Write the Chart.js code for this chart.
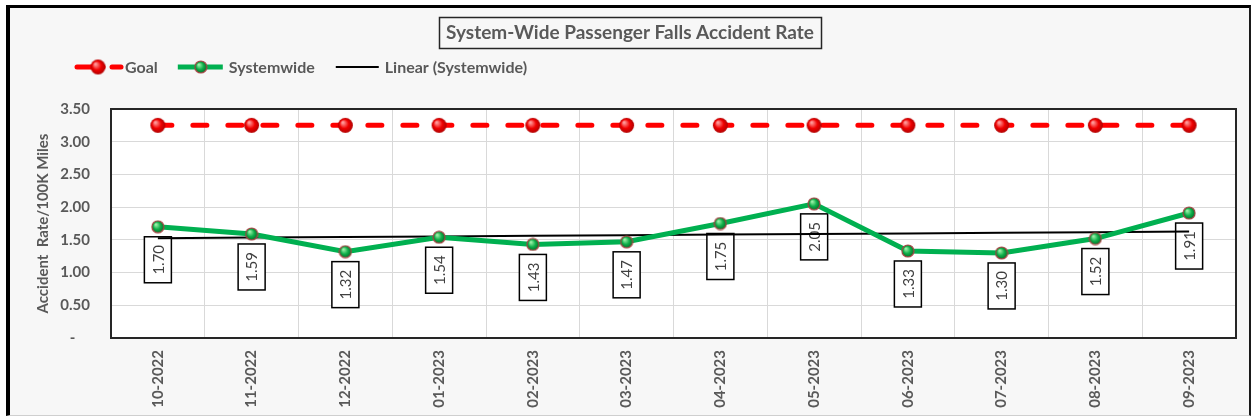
<!DOCTYPE html>
<html>
<head>
<meta charset="utf-8">
<script src="https://cdn.jsdelivr.net/npm/chart.js@4/dist/chart.umd.min.js"></script>
<style>
  html, body { margin: 0; padding: 0; width: 1251px; height: 417px; overflow: hidden; background: #fff; }
  .frame {
    position: absolute; left: 6px; top: 5px; width: 1245px; height: 411px; box-sizing: border-box;
    background: #f7f7f7; border-left: 4px solid #000; border-top: 3px solid #000;
    border-right: 2px solid #1a1a1a; border-bottom: 1px solid #cfcfcf;
  }
  #rateChart { position: absolute; left: 0; top: 0; }
</style>
</head>
<body>
<div class="frame"></div>
<canvas id="rateChart" width="1251" height="417"></canvas>
<script>
// chart data
const months = ['10-2022', '11-2022', '12-2022', '01-2023', '02-2023', '03-2023',
                '04-2023', '05-2023', '06-2023', '07-2023', '08-2023', '09-2023'];
const systemwide = [1.70, 1.59, 1.32, 1.54, 1.43, 1.47, 1.75, 2.05, 1.33, 1.30, 1.52, 1.91];
const goal = [3.25, 3.25, 3.25, 3.25, 3.25, 3.25, 3.25, 3.25, 3.25, 3.25, 3.25, 3.25];
const yMin = 0, yMax = 3.5, yStep = 0.5;

const chartTitle = 'System-Wide Passenger Falls Accident Rate';
const yTitle = 'Accident  Rate/100K Miles';
const legendNames = ['Goal', 'Systemwide', 'Linear (Systemwide)'];

const GREY = '#595959';
const FONT = 'Lato';

// least squares trend, like the Excel "Linear" trendline
function linearTrend(values) {
    const n = values.length;
    let sx = 0, sy = 0, sxy = 0, sxx = 0;
    values.forEach((v, i) => { sx += i; sy += v; sxy += i * v; sxx += i * i; });
    const slope = (n * sxy - sx * sy) / (n * sxx - sx * sx);
    const icpt = (sy - slope * sx) / n;
    return values.map((v, i) => icpt + slope * i);
}
const trend = linearTrend(systemwide);

// shaded ball markers
function sphere(d, light, mid, dark, stroke) {
    const c = document.createElement('canvas');
    c.width = c.height = d + 2;
    const g = c.getContext('2d');
    const r = d / 2, cx = r + 1, cy = r + 1;
    const grad = g.createRadialGradient(cx - r * 0.35, cy - r * 0.4, r * 0.1, cx, cy, r);
    grad.addColorStop(0, light);
    grad.addColorStop(0.55, mid);
    grad.addColorStop(1, dark);
    g.beginPath();
    g.arc(cx, cy, r, 0, Math.PI * 2);
    g.fillStyle = grad;
    g.fill();
    if (stroke) { g.lineWidth = 1.2; g.strokeStyle = stroke; g.stroke(); }
    return c;
}
const redBall = sphere(15, '#ff9a9a', '#f00000', '#b00000', null);
const greenBall = sphere(12, '#9cf0a8', '#10b04a', '#00702a', '#a64545');

// white plot area + frame
const plotFrame = {
    id: 'plotFrame',
    beforeDraw(chart) {
        const { ctx, chartArea: a } = chart;
        ctx.save();
        ctx.fillStyle = '#fff';
        ctx.fillRect(a.left, a.top, a.right - a.left, a.bottom - a.top);
        ctx.restore();
    },
    beforeDatasetsDraw(chart) {
        const { ctx, chartArea: a } = chart;
        ctx.save();
        ctx.strokeStyle = '#262626';
        ctx.lineWidth = 2;
        ctx.strokeRect(a.left, a.top, a.right - a.left, a.bottom - a.top);

        // boxed value labels under the systemwide points
        const meta = chart.getDatasetMeta(1);
        ctx.font = '15px ' + FONT;
        ctx.textAlign = 'center';
        ctx.textBaseline = 'middle';
        meta.data.forEach((pt, i) => {
            const bx = pt.x - 13.5, by = pt.y + 10, bw = 27, bh = 46;
            ctx.fillStyle = '#fff';
            ctx.fillRect(bx, by, bw, bh);
            ctx.lineWidth = 1.5;
            ctx.strokeStyle = '#000';
            ctx.strokeRect(bx, by, bw, bh);
            ctx.save();
            ctx.translate(pt.x + 1, by + bh / 2);
            ctx.rotate(-Math.PI / 2);
            ctx.fillStyle = '#404040';
            ctx.fillText(systemwide[i].toFixed(2), 0, 0);
            ctx.restore();
        });
        ctx.restore();
    }
};

// boxed title and the legend row
const headerBits = {
    id: 'headerBits',
    afterDraw(chart) {
        const ctx = chart.ctx;
        ctx.save();
        ctx.font = 'bold 19px ' + FONT;
        ctx.fillStyle = GREY;
        ctx.textAlign = 'center';
        ctx.textBaseline = 'middle';
        const tw = ctx.measureText(chartTitle).width;
        const cx = 630, cy = 33;
        ctx.fillText(chartTitle, cx, cy);
        ctx.strokeStyle = '#262626';
        ctx.lineWidth = 1.5;
        ctx.strokeRect(Math.round(cx - tw / 2 - 7) + 0.5, 17.5, Math.round(tw + 14), 31);

        // legend
        const ly = 67;
        let x = 75;
        ctx.font = 'bold 16px ' + FONT;
        ctx.textAlign = 'left';
        ctx.lineCap = 'round';

        // Goal: dashed red with ball
        ctx.strokeStyle = '#ff0000';
        ctx.lineWidth = 5;
        ctx.beginPath(); ctx.moveTo(x + 2, ly); ctx.lineTo(x + 28, ly); ctx.stroke();
        ctx.beginPath(); ctx.moveTo(x + 37, ly); ctx.lineTo(x + 46, ly); ctx.stroke();
        ctx.drawImage(redBall, x + 23 - redBall.width / 2, ly - redBall.height / 2);
        x += 50;
        ctx.fillText(legendNames[0], x, ly + 1);
        x += ctx.measureText(legendNames[0]).width + 20;

        // Systemwide: green with ball
        ctx.strokeStyle = '#00b050';
        ctx.lineCap = 'butt';
        ctx.beginPath(); ctx.moveTo(x, ly); ctx.lineTo(x + 45, ly); ctx.stroke();
        ctx.drawImage(greenBall, x + 23 - greenBall.width / 2, ly - greenBall.height / 2);
        x += 51;
        ctx.fillText(legendNames[1], x, ly + 1);
        x += ctx.measureText(legendNames[1]).width + 21;

        // Linear trend: black
        ctx.strokeStyle = '#000';
        ctx.lineWidth = 2;
        ctx.beginPath(); ctx.moveTo(x, ly); ctx.lineTo(x + 43, ly); ctx.stroke();
        x += 49;
        ctx.fillText(legendNames[2], x, ly + 1);
        ctx.restore();
    }
};

new Chart(document.getElementById('rateChart'), {
    type: 'line',
    data: {
        labels: months,
        datasets: [
            {
                label: legendNames[0],
                data: goal,
                borderColor: '#ff0000',
                borderWidth: 5,
                borderDash: [14, 21],
                borderCapStyle: 'round',
                pointStyle: redBall,
                order: 0
            },
            {
                label: legendNames[1],
                data: systemwide,
                borderColor: '#00b050',
                borderWidth: 5,
                pointStyle: greenBall,
                order: 1
            },
            {
                label: legendNames[2],
                data: trend,
                borderColor: '#000',
                borderWidth: 2,
                pointRadius: 0,
                order: 2
            }
        ]
    },
    options: {
        responsive: false,
        devicePixelRatio: 1,
        animation: false,
        events: [],
        layout: { padding: { top: 109, right: 15, left: 0, bottom: 0 } },
        plugins: {
            legend: { display: false },
            title: { display: false },
            tooltip: { enabled: false }
        },
        scales: {
            x: {
                offset: true,
                grid: { offset: true, color: '#d9d9d9', drawTicks: false },
                border: { display: false },
                ticks: {
                    minRotation: 90, maxRotation: 90, padding: 12,
                    color: GREY, font: { family: FONT, size: 15, weight: 'bold' }
                },
                afterFit(scale) { scale.height = 79; }
            },
            y: {
                min: yMin, max: yMax,
                grid: { color: '#d9d9d9', drawTicks: false },
                border: { display: false },
                ticks: {
                    stepSize: yStep, padding: 21,
                    color: GREY, font: { family: FONT, size: 15, weight: 'bold' },
                    callback: v => v === 0 ? '-    ' : v.toFixed(2)
                },
                title: {
                    display: true, text: yTitle, color: GREY,
                    font: { family: FONT, size: 15, weight: 'bold' },
                    padding: { top: 34, bottom: 0 }
                },
                afterFit(scale) { scale.width = 111; }
            }
        }
    },
    plugins: [plotFrame, headerBits]
});
</script>
</body>
</html>
